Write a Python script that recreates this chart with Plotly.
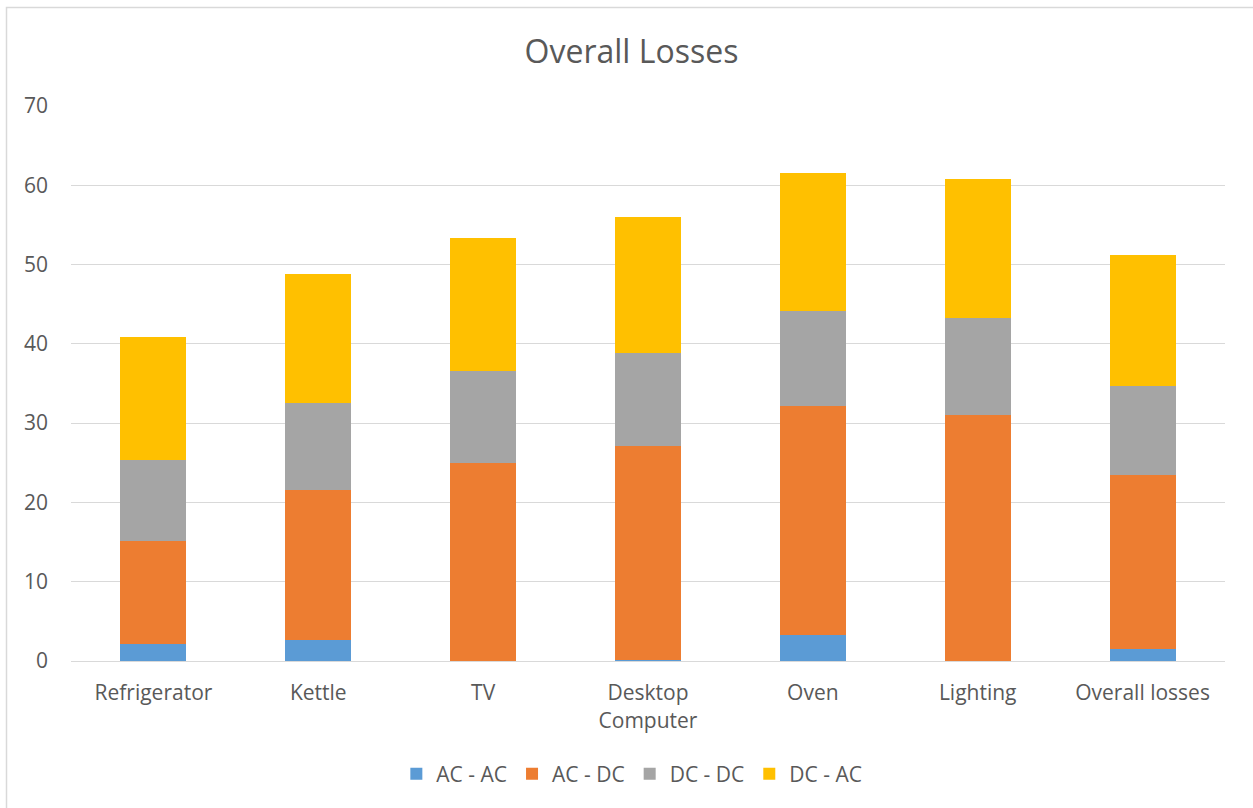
import plotly.graph_objects as go

categories = ["Refrigerator", "Kettle", "TV", "Desktop<br>Computer", "Oven", "Lighting", "Overall losses"]
ac_ac = [2.2, 2.7, 0.0, 0.1, 3.3, 0.0, 1.5]
ac_dc = [12.9, 18.9, 25.0, 27.0, 28.9, 31.0, 21.9]
dc_dc = [10.2, 10.9, 11.6, 11.8, 12.0, 12.3, 11.3]
dc_ac = [15.6, 16.3, 16.8, 17.1, 17.3, 17.45, 16.5]
y_ticks = [0, 10, 20, 30, 40, 50, 60, 70]

series = [
    ("AC - AC", ac_ac, "#5b9bd5"),
    ("AC - DC", ac_dc, "#ed7d31"),
    ("DC - DC", dc_dc, "#a5a5a5"),
    ("DC - AC", dc_ac, "#ffc000"),
]

fig = go.Figure()
for name, vals, color in series:
    fig.add_trace(go.Bar(
        x=categories, y=vals, name=name,
        marker=dict(color=color, line=dict(width=0)),
    ))

font_family = "'Open Sans', sans-serif"
text_color = "#595959"

# plot area in pixels: x 71..1225, y 106..661
fig.update_layout(
    barmode="stack",
    bargap=0.6,
    width=1253, height=808,
    margin=dict(l=71, r=28, t=106, b=147),
    paper_bgcolor="white",
    plot_bgcolor="white",
    font=dict(family=font_family, size=21, color=text_color),
    title=dict(text="Overall Losses", x=0.504, xanchor="center", y=0.936, yanchor="middle",
               font=dict(size=32, color=text_color, family=font_family)),
    legend=dict(orientation="h", x=0.486, xanchor="center", y=-0.204, yanchor="middle",
                font=dict(size=21, color=text_color), itemwidth=30, traceorder="normal"),
    xaxis=dict(showgrid=False, showline=True, linecolor="#d9d9d9", linewidth=1,
               ticks="", ticklabelstandoff=13, tickfont=dict(size=21, color=text_color)),
    yaxis=dict(range=[0, 70], tickvals=y_ticks, showgrid=True, gridcolor="#d9d9d9",
               gridwidth=1, zeroline=False, showline=False, ticks="",
               ticklabelstandoff=22, tickfont=dict(size=21, color=text_color)),
    shapes=[dict(type="rect", xref="paper", yref="paper",
                 x0=(6.5 - 71) / 1154, x1=(1262 - 71) / 1154,
                 y0=(661 - 820) / 555, y1=(661 - 7.5) / 555,
                 line=dict(color="#d9d9d9", width=1.5), fillcolor="rgba(0,0,0,0)", layer="below")],
)

fig.write_html("out.html")
